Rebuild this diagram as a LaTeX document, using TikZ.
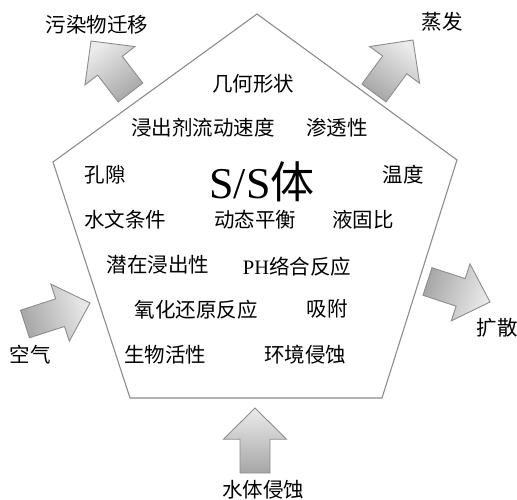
\documentclass[tikz,border=0pt]{standalone}
\usepackage{fontspec}
\setmainfont{Liberation Serif}
\newfontfamily\cjk{Noto Sans CJK SC}
\usetikzlibrary{calc}
\definecolor{edgegray}{HTML}{8C8C8C}
\definecolor{arrdark}{HTML}{A6A6A6}
\definecolor{arrlight}{HTML}{EBEBEB}
\tikzset{
  lbl/.style={font=\fontsize{20.5}{22}\selectfont\cjk, inner sep=0pt, anchor=center},
  bigl/.style={font=\fontsize{44}{46}\selectfont, inner sep=0pt, anchor=center},
  penta/.style={draw=edgegray, line width=1.1pt, line join=miter},
  barrow/.style={draw=edgegray, line width=0.9pt, top color=arrlight, bottom color=arrdark},
}
% #1 tail centre, #2 tip, #3 shaft half width, #4 head half width, #5 shaft fraction, #6 shading angle
\newcommand{\blockarrow}[6]{%
  \coordinate (bT) at #1; \coordinate (bP) at #2;
  \coordinate (bS) at ($(bT)!#5!(bP)$);
  \path[barrow, shading angle=#6]
    ($(bT)!#3!90:(bP)$) -- ($(bS)!#3!90:(bP)$) -- ($(bS)!#4!90:(bP)$) -- (bP)
    -- ($(bS)!#4!-90:(bP)$) -- ($(bS)!#3!-90:(bP)$) -- ($(bT)!#3!-90:(bP)$) -- cycle;
}
\begin{document}
\begin{tikzpicture}[x=1pt,y=-1pt]
\useasboundingbox (0,0) rectangle (517,499);
% pentagon
\coordinate (pA) at (257,14);
\coordinate (pR) at (457,160);
\coordinate (pBR) at (382,398);
\coordinate (pBL) at (130,398);
\coordinate (pL) at (53,162);
\draw[penta] (pA) -- (pR) -- (pBR) -- (pBL) -- (pL) -- cycle;
% block arrows
\blockarrow{(130.5,92.5)}{(91,41)}{15.5pt}{31.5pt}{0.52}{37.5}
\blockarrow{(374,93)}{(413,40)}{15pt}{31pt}{0.53}{-36}
\blockarrow{(25,324)}{(90,303)}{14.5pt}{30pt}{0.54}{-72}
\blockarrow{(427.5,281.5)}{(490,302)}{14.5pt}{30pt}{0.53}{-108}
\blockarrow{(255,473)}{(255,408)}{15pt}{31.5pt}{0.52}{0}
% outer labels
\node[lbl] (t1) at (97,25) {污染物迁移};
\node[lbl] (t2) at (442,22) {蒸发};
\node[lbl] (t3) at (30,355) {空气};
\node[lbl] (t4) at (497,328) {扩散};
\node[lbl] (t5) at (263,490) {水体侵蚀};
% inner labels
\node[lbl] (i1) at (253,84) {几何形状};
\node[lbl] (i2) at (203,128) {浸出剂流动速度};
\node[lbl] (i3) at (337,128) {渗透性};
\node[lbl] (i4) at (105,175) {孔隙};
\node[bigl] (i5) at (262,182) {S/S{\cjk 体}};
\node[lbl] (i6) at (403,175) {温度};
\node[lbl] (i7) at (125,220) {水文条件};
\node[lbl] (i8) at (255,220) {动态平衡};
\node[lbl] (i9) at (363,220) {液固比};
\node[lbl] (i10) at (158,265) {潜在浸出性};
\node[lbl] (i11) at (297,267) {{\rmfamily PH}络合反应};
\node[lbl] (i12) at (196,310) {氧化还原反应};
\node[lbl] (i13) at (327,309) {吸附};
\node[lbl] (i14) at (165,355) {生物活性};
\node[lbl] (i15) at (305,355) {环境侵蚀};
\end{tikzpicture}
\end{document}
